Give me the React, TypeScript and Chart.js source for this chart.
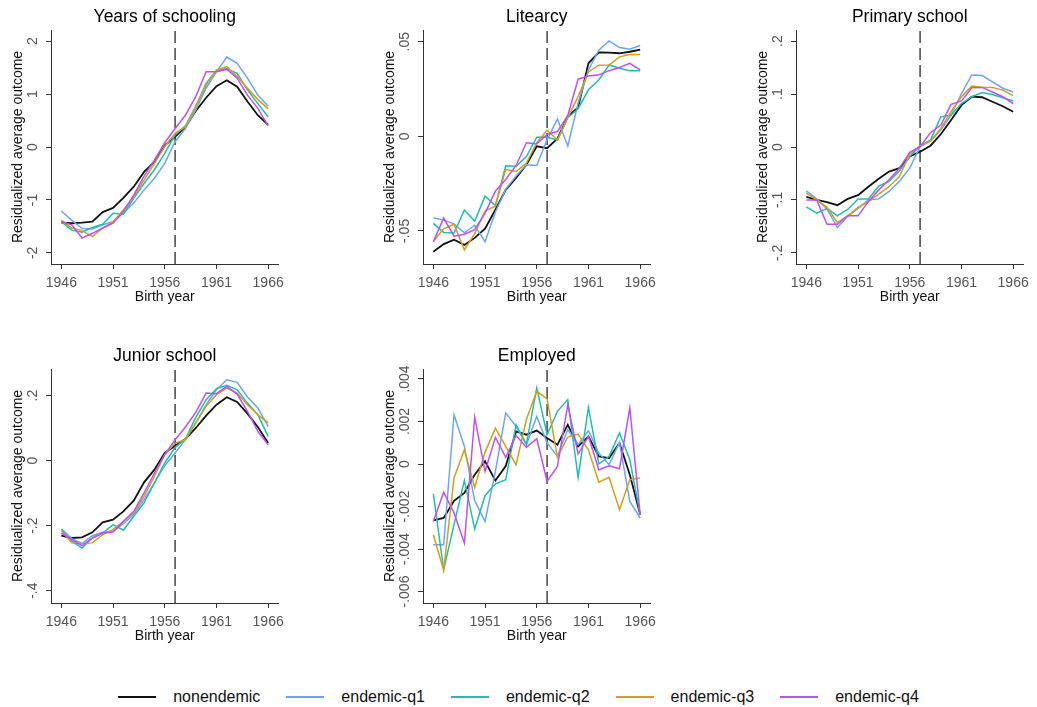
import React, { useEffect, useRef } from "react";
import { Chart, registerables } from "chart.js";

Chart.register(...registerables);

// ---------------- data ----------------
const years = [1946, 1947, 1948, 1949, 1950, 1951, 1952, 1953, 1954, 1955, 1956, 1957, 1958, 1959, 1960, 1961, 1962, 1963, 1964, 1965, 1966];
const xTickValues = [1946, 1951, 1956, 1961, 1966];
const cutoffYear = 1957;

const seriesNames = ["nonendemic", "endemic-q1", "endemic-q2", "endemic-q3", "endemic-q4"];
const seriesColors = ["#111111", "#6AA4FF", "#1DBFAE", "#D39E1A", "#C04EFF"];

// Years of schooling
const schoolingNon = [-1.43, -1.44, -1.43, -1.41, -1.23, -1.15, -0.96, -0.75, -0.47, -0.28, 0.03, 0.19, 0.38, 0.68, 0.93, 1.15, 1.26, 1.14, 0.86, 0.6, 0.42];
const schoolingQ1 = [-1.21, -1.38, -1.54, -1.55, -1.47, -1.41, -1.25, -1.06, -0.81, -0.59, -0.31, 0.1, 0.35, 0.7, 1.11, 1.42, 1.7, 1.58, 1.3, 0.98, 0.77];
const schoolingQ2 = [-1.41, -1.57, -1.61, -1.52, -1.46, -1.25, -1.27, -0.97, -0.69, -0.43, -0.12, 0.23, 0.4, 0.77, 1.2, 1.45, 1.48, 1.39, 1.08, 0.82, 0.57];
const schoolingQ3 = [-1.38, -1.53, -1.58, -1.69, -1.53, -1.41, -1.19, -0.94, -0.62, -0.31, 0.01, 0.26, 0.38, 0.76, 1.17, 1.45, 1.52, 1.33, 1.11, 0.9, 0.72];
const schoolingQ4 = [-1.41, -1.47, -1.72, -1.63, -1.53, -1.44, -1.22, -0.91, -0.55, -0.25, 0.08, 0.35, 0.6, 0.95, 1.42, 1.42, 1.47, 1.3, 0.98, 0.73, 0.4];
const schoolingTicks = [-2, -1, 0, 1, 2];
const schoolingTickLabels = ["-2", "-1", "0", "1", "2"];

// Literacy
const literacyNon = [-0.061, -0.057, -0.0547, -0.0574, -0.0537, -0.0488, -0.0388, -0.0283, -0.022, -0.015, -0.0053, -0.0063, -0.0012, 0.0105, 0.0153, 0.0386, 0.0444, 0.0442, 0.0439, 0.0447, 0.0458];
const literacyQ1 = [-0.043, -0.0443, -0.0463, -0.051, -0.047, -0.0557, -0.04, -0.028, -0.021, -0.015, -0.0154, -0.0018, 0.0091, -0.0051, 0.0175, 0.0351, 0.0455, 0.0504, 0.0469, 0.046, 0.048];
const literacyQ2 = [-0.046, -0.0508, -0.0511, -0.039, -0.0448, -0.0316, -0.0366, -0.0156, -0.0158, -0.0107, -0.0005, -0.0004, -0.002, 0.0098, 0.0146, 0.0246, 0.0298, 0.0377, 0.036, 0.0347, 0.0347];
const literacyQ3 = [-0.0555, -0.0489, -0.0465, -0.06, -0.0514, -0.0395, -0.037, -0.0175, -0.0186, -0.0142, -0.0034, 0.0032, -0.002, 0.01, 0.021, 0.034, 0.0376, 0.0377, 0.042, 0.0433, 0.0433];
const literacyQ4 = [-0.0558, -0.0432, -0.0528, -0.0518, -0.0493, -0.0406, -0.029, -0.0228, -0.0154, -0.0034, -0.004, 0.001, 0.0025, 0.011, 0.0302, 0.0319, 0.0325, 0.0347, 0.0364, 0.0386, 0.0351];
const literacyTicks = [-0.05, 0, 0.05];
const literacyTickLabels = ["-.05", "0", ".05"];

// Primary school
const primaryNon = [-0.094, -0.1, -0.104, -0.11, -0.098, -0.091, -0.075, -0.06, -0.0465, -0.04, -0.018, -0.0088, 0.0025, 0.024, 0.051, 0.079, 0.095, 0.094, 0.0855, 0.077, 0.0667];
const primaryQ1 = [-0.083, -0.098, -0.117, -0.152, -0.131, -0.116, -0.1, -0.098, -0.084, -0.065, -0.04, 0.0006, 0.011, 0.032, 0.06, 0.101, 0.136, 0.135, 0.123, 0.111, 0.104];
const primaryQ2 = [-0.113, -0.125, -0.116, -0.13, -0.118, -0.098, -0.098, -0.074, -0.065, -0.045, -0.018, 0.0025, 0.013, 0.057, 0.06, 0.082, 0.095, 0.103, 0.099, 0.093, 0.087];
const primaryQ3 = [-0.087, -0.1, -0.114, -0.143, -0.13, -0.114, -0.103, -0.089, -0.075, -0.056, -0.013, 0.0025, 0.011, 0.035, 0.067, 0.095, 0.115, 0.113, 0.1126, 0.1075, 0.097];
const primaryQ4 = [-0.1, -0.1, -0.146, -0.146, -0.13, -0.13, -0.103, -0.081, -0.062, -0.04, -0.01, 0.0006, 0.027, 0.0415, 0.0805, 0.087, 0.112, 0.1126, 0.104, 0.095, 0.082];
const primaryTicks = [-0.2, -0.1, 0, 0.1, 0.2];
const primaryTickLabels = ["-.2", "-.1", "0", ".1", ".2"];

// Junior school
const juniorNon = [-0.231, -0.238, -0.236, -0.2205, -0.19, -0.1815, -0.156, -0.123, -0.0667, -0.0277, 0.0236, 0.046, 0.0667, 0.1005, 0.1385, 0.172, 0.195, 0.1805, 0.1446, 0.1036, 0.054];
const juniorQ1 = [-0.21, -0.24, -0.255, -0.231, -0.2205, -0.2175, -0.194, -0.166, -0.12, -0.0687, -0.0154, 0.0236, 0.0646, 0.116, 0.172, 0.218, 0.249, 0.241, 0.196, 0.162, 0.1056];
const juniorQ2 = [-0.212, -0.248, -0.269, -0.238, -0.2225, -0.197, -0.214, -0.171, -0.13, -0.0687, -0.0072, 0.041, 0.0667, 0.133, 0.1877, 0.2215, 0.232, 0.218, 0.177, 0.1415, 0.0749];
const juniorQ3 = [-0.214, -0.253, -0.255, -0.253, -0.228, -0.212, -0.187, -0.161, -0.11, -0.048, 0.0185, 0.054, 0.0646, 0.116, 0.167, 0.203, 0.2236, 0.208, 0.172, 0.1415, 0.116];
const juniorQ4 = [-0.2226, -0.243, -0.2615, -0.238, -0.2226, -0.2195, -0.187, -0.156, -0.0995, -0.038, 0.0185, 0.0646, 0.1036, 0.1487, 0.208, 0.206, 0.2287, 0.205, 0.152, 0.09, 0.049];
const juniorTicks = [-0.4, -0.2, 0, 0.2];
const juniorTickLabels = ["-.4", "-.2", "0", ".2"];

// Employed
const employedNon = [-0.00265, -0.00254, -0.00173, -0.00136, -0.0005, 0.00013, -0.00078, -0.0001, 0.00154, 0.00138, 0.00157, 0.00122, 0.00091, 0.00185, 0.00083, 0.0013, 0.00036, 0.00028, 0.00099, -0.0005, -0.00238];
const employedQ1 = [-0.0038, -0.0038, 0.00232, 0.00083, -0.00173, -0.0027, -0.00035, 0.0024, 0.00177, 0.00091, 0.00224, 0.00099, 0.00036, 0.00162, 0.00091, 0.00157, 0.00052, -0.00003, 0.00102, -0.00176, -0.00254];
const employedQ2 = [-0.0014, -0.00497, -0.00285, -0.00077, -0.00306, -0.00149, -0.00093, -0.00074, 0.00185, 0.00094, 0.00358, 0.00138, 0.00248, 0.00303, -0.00063, 0.00267, 0.0, 0.00036, 0.00146, 0.0002, -0.00238];
const employedQ3 = [-0.00333, -0.005, -0.00066, 0.00067, -0.0011, 0.00056, 0.00169, 0.00083, -0.00003, 0.00209, 0.00342, 0.00306, 0.00031, 0.00127, 0.00141, 0.00067, -0.00086, -0.00063, -0.00215, -0.00074, -0.00066];
const employedQ4 = [-0.0027, -0.00133, -0.0023, -0.00372, 0.00221, -0.00035, 0.00125, 0.00031, 0.00135, 0.00078, 0.00119, -0.00082, -0.00011, 0.00279, 0.00047, 0.0013, -0.00027, -0.00008, -0.00022, 0.00264, -0.00238];
const employedTicks = [-0.006, -0.004, -0.002, 0, 0.002, 0.004];
const employedTickLabels = ["-.006", "-.004", "-.002", "0", ".002", ".004"];

const xAxisTitle = "Birth year";
const yAxisTitle = "Residualized average outcome";

// ---------------- panels ----------------
type PanelDef = {
  title: string;
  series: number[][];
  ticks: number[];
  tickLabels: string[];
  yMin: number;
  yMax: number;
  left: number;
  top: number;
};

const panels: PanelDef[] = [
  { title: "Years of schooling", series: [schoolingNon, schoolingQ1, schoolingQ2, schoolingQ3, schoolingQ4], ticks: schoolingTicks, tickLabels: schoolingTickLabels, yMin: -2.21, yMax: 2.21, left: 0, top: 0 },
  { title: "Litearcy", series: [literacyNon, literacyQ1, literacyQ2, literacyQ3, literacyQ4], ticks: literacyTicks, tickLabels: literacyTickLabels, yMin: -0.0675, yMax: 0.0562, left: 372, top: 0 },
  { title: "Primary school", series: [primaryNon, primaryQ1, primaryQ2, primaryQ3, primaryQ4], ticks: primaryTicks, tickLabels: primaryTickLabels, yMin: -0.221, yMax: 0.221, left: 745, top: 0 },
  { title: "Junior school", series: [juniorNon, juniorQ1, juniorQ2, juniorQ3, juniorQ4], ticks: juniorTicks, tickLabels: juniorTickLabels, yMin: -0.438, yMax: 0.282, left: 0, top: 339 },
  { title: "Employed", series: [employedNon, employedQ1, employedQ2, employedQ3, employedQ4], ticks: employedTicks, tickLabels: employedTickLabels, yMin: -0.00654, yMax: 0.00447, left: 372, top: 339 },
];

const FONT = '"Liberation Sans", Arial, Helvetica, sans-serif';
const CANVAS_W = 290;
const CANVAS_H = 310;

// Draws the rotated y tick labels and the panel title centred over the plot area
const panelTextPlugin = {
  id: "panelText",
  afterDraw(chart: any, _args: any, opts: any) {
    const s = chart.scales.y;
    const area = chart.chartArea;
    const ctx = chart.ctx;
    ctx.save();
    ctx.font = `14px ${FONT}`;
    ctx.fillStyle = "#555555";
    ctx.textAlign = "center";
    ctx.textBaseline = "middle";
    (opts.values as number[]).forEach((v, i) => {
      const py = s.getPixelForValue(v);
      ctx.save();
      ctx.translate(s.right - 18, py);
      ctx.rotate(-Math.PI / 2);
      ctx.fillText(opts.labels[i], 0, 0);
      ctx.restore();
    });
    ctx.font = `17.5px ${FONT}`;
    ctx.fillStyle = "#000000";
    ctx.fillText(opts.title, (area.left + area.right) / 2, 17);
    ctx.restore();
  },
};

function buildConfig(p: PanelDef): any {
  const datasets: any[] = p.series.map((vals, k) => ({
    label: seriesNames[k],
    data: years.map((yr, i) => ({ x: yr, y: vals[i] })),
    borderColor: seriesColors[k],
    backgroundColor: seriesColors[k],
    borderWidth: k === 0 ? 1.8 : 1.5,
    pointRadius: 0,
    tension: 0,
    fill: false,
    order: 4 - k,
  }));
  datasets.push({
    label: "cutoff",
    data: [
      { x: cutoffYear, y: p.yMin },
      { x: cutoffYear, y: p.yMax },
    ],
    borderColor: "#444444",
    borderWidth: 1.5,
    borderDash: [12, 5],
    pointRadius: 0,
    fill: false,
    order: 10,
  });

  const gridOpts = { display: true, drawOnChartArea: false, drawTicks: true, tickLength: 5, color: "#333333", lineWidth: 1 };
  const borderOpts = { display: true, color: "#333333", width: 1 };

  return {
    type: "line",
    data: { datasets },
    plugins: [panelTextPlugin],
    options: {
      responsive: false,
      animation: false,
      devicePixelRatio: 1,
      layout: { padding: { left: 0, right: CANVAS_W - 51 - 233, top: 30, bottom: 0 } },
      plugins: {
        legend: { display: false },
        tooltip: { enabled: false },
        title: { display: false },
        panelText: { values: p.ticks, labels: p.tickLabels, title: p.title },
      },
      scales: {
        x: {
          type: "linear",
          min: 1945,
          max: 1967,
          afterBuildTicks: (s: any) => {
            s.ticks = xTickValues.map((v) => ({ value: v }));
          },
          afterFit: (s: any) => {
            s.height = 46;
          },
          ticks: {
            color: "#555555",
            font: { size: 14, family: FONT },
            padding: 6,
            maxRotation: 0,
            autoSkip: false,
            callback: (v: any) => String(v),
          },
          grid: gridOpts,
          border: borderOpts,
          title: {
            display: true,
            text: xAxisTitle,
            color: "#111111",
            font: { size: 14, family: FONT },
            padding: { top: 0, bottom: 4 },
          },
        },
        y: {
          type: "linear",
          min: p.yMin,
          max: p.yMax,
          afterBuildTicks: (s: any) => {
            s.ticks = p.ticks.map((v) => ({ value: v }));
          },
          afterFit: (s: any) => {
            s.width = 51;
          },
          ticks: { display: false },
          grid: gridOpts,
          border: borderOpts,
          title: {
            display: true,
            text: yAxisTitle,
            color: "#111111",
            font: { size: 14, family: FONT },
            padding: { top: 10, bottom: 0 },
          },
        },
      },
    },
  };
}

function Panel({ def }: { def: PanelDef }) {
  const ref = useRef<HTMLCanvasElement | null>(null);
  useEffect(() => {
    if (!ref.current) return;
    const chart = new Chart(ref.current, buildConfig(def));
    return () => chart.destroy();
  }, [def]);
  return (
    <canvas
      ref={ref}
      width={CANVAS_W}
      height={CANVAS_H}
      style={{ position: "absolute", left: def.left, top: def.top, width: CANVAS_W, height: CANVAS_H }}
    />
  );
}

function Legend() {
  return (
    <div
      style={{
        position: "absolute",
        left: 0,
        top: 687,
        width: 1037,
        height: 20,
        display: "flex",
        justifyContent: "center",
        alignItems: "center",
        fontFamily: FONT,
        fontSize: 16,
        color: "#111111",
      }}
    >
      {seriesNames.map((name, k) => (
        <div key={name} style={{ display: "flex", alignItems: "center", marginRight: k < seriesNames.length - 1 ? 26 : 0 }}>
          <span style={{ display: "inline-block", width: 38, height: k === 0 ? 2.5 : 2, background: seriesColors[k], marginRight: 17 }} />
          <span style={{ whiteSpace: "nowrap" }}>{name}</span>
        </div>
      ))}
    </div>
  );
}

export default function App() {
  return (
    <div style={{ position: "absolute", left: 0, top: 0, width: 1037, height: 707, background: "#ffffff", overflow: "hidden" }}>
      {panels.map((p) => (
        <Panel key={p.title} def={p} />
      ))}
      <Legend />
    </div>
  );
}
